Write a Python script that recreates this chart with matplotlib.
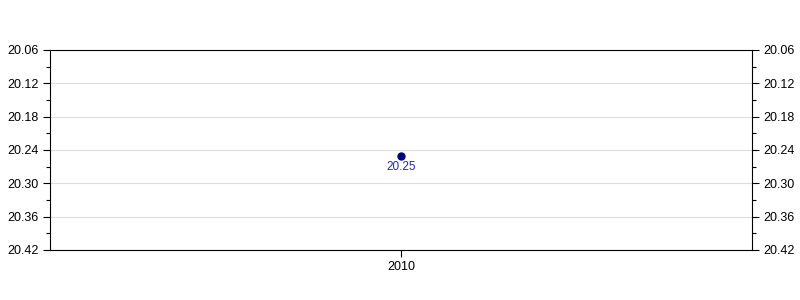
import matplotlib.pyplot as plt
from matplotlib.ticker import FixedLocator

plt.rcParams['font.family'] = ['Liberation Sans', 'DejaVu Sans']

years = ['2010']
values = [20.25]
y_major = [20.06, 20.12, 20.18, 20.24, 20.30, 20.36, 20.42]
y_minor = [20.09, 20.15, 20.21, 20.27, 20.33, 20.39]

fig = plt.figure(figsize=(8, 3), dpi=100)
ax = fig.add_axes([0.0625, 0.1667, 0.8775, 0.6667])

x = list(range(len(years)))
ax.plot(x, values, 'o', color='#000080', markersize=5, zorder=3)
for xi, v in zip(x, values):
    ax.annotate('%.2f' % v, (xi, v), textcoords='offset points', xytext=(0, -8),
                ha='center', va='center', fontsize=8.5, color='#2a2aa0')

ax.set_xlim(-1, 1)
ax.set_xticks(x)
ax.set_xticklabels(years)
ax.set_ylim(y_major[-1], y_major[0])
ax.yaxis.set_major_locator(FixedLocator(y_major))
ax.yaxis.set_minor_locator(FixedLocator(y_minor))
ax.yaxis.set_major_formatter(lambda v, p: '%.2f' % v)
ax.grid(axis='y', which='major', color='#dddddd', linewidth=0.8)
ax.set_axisbelow(True)

ax.tick_params(axis='both', which='major', direction='out', length=5, labelsize=9,
               width=0.8, colors='black', pad=3)
ax.tick_params(axis='y', which='minor', direction='out', length=3, width=0.8)
ax.tick_params(axis='y', which='both', right=True, labelright=True)
for s in ax.spines.values():
    s.set_linewidth(0.8)

fig.savefig('out.png', dpi=100)
